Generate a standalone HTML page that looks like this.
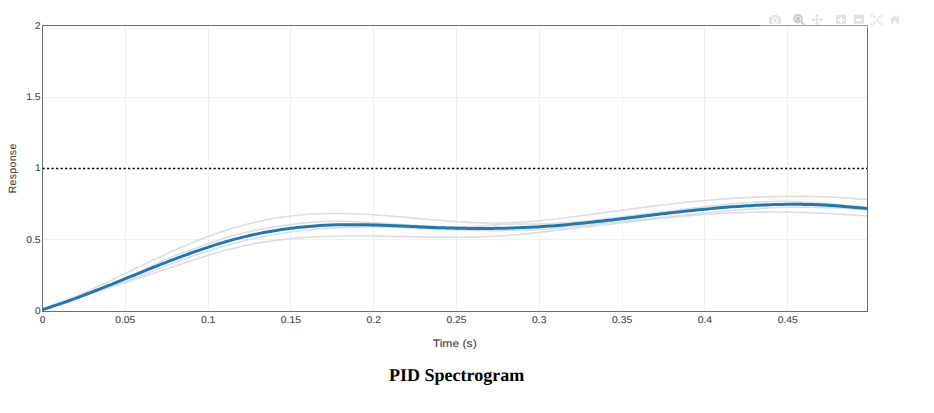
<!DOCTYPE html>
<html><head><meta charset="utf-8"><style>
html,body{margin:0;padding:0;background:#fff;width:934px;height:413px;overflow:hidden;}
body{position:relative;font-family:"Liberation Sans", sans-serif;}
</style></head><body>
<svg width="934" height="413" viewBox="0 0 934 413" style="position:absolute;left:0;top:0;text-rendering:geometricPrecision">
<rect x="125" y="25" width="1" height="286" fill="#f0f0f0"/>
<rect x="208" y="25" width="1" height="286" fill="#f0f0f0"/>
<rect x="290" y="25" width="1" height="286" fill="#f0f0f0"/>
<rect x="373" y="25" width="1" height="286" fill="#f0f0f0"/>
<rect x="456" y="25" width="1" height="286" fill="#f0f0f0"/>
<rect x="539" y="25" width="1" height="286" fill="#f0f0f0"/>
<rect x="622" y="25" width="1" height="286" fill="#f0f0f0"/>
<rect x="704" y="25" width="1" height="286" fill="#f0f0f0"/>
<rect x="787" y="25" width="1" height="286" fill="#f0f0f0"/>
<rect x="42" y="97" width="825" height="1" fill="#f0f0f0"/>
<rect x="42" y="239" width="825" height="1" fill="#f0f0f0"/>
<defs><clipPath id="c"><rect x="42" y="25" width="826" height="286"/></clipPath></defs>
<g clip-path="url(#c)" fill="none" stroke-linejoin="round" stroke-linecap="butt">
<path d="M42.0,309.00 L45.0,308.04 L48.0,307.05 L51.0,306.02 L54.0,304.96 L57.0,303.87 L60.0,302.76 L63.0,301.61 L66.0,300.44 L69.0,299.24 L72.0,298.01 L75.0,296.77 L78.0,295.50 L81.0,294.21 L84.0,292.90 L87.0,291.57 L90.0,290.23 L93.0,288.87 L96.0,287.49 L99.0,286.10 L102.0,284.70 L105.0,283.28 L108.0,281.86 L111.0,280.43 L114.0,278.99 L117.0,277.54 L120.0,276.09 L123.0,274.63 L126.0,273.17 L129.0,271.71 L132.0,270.25 L135.0,268.78 L138.0,267.32 L141.0,265.87 L144.0,264.41 L147.0,262.97 L150.0,261.52 L153.0,260.09 L156.0,258.67 L159.0,257.25 L162.0,255.85 L165.0,254.46 L168.0,253.08 L171.0,251.72 L174.0,250.37 L177.0,249.04 L180.0,247.73 L183.0,246.44 L186.0,245.17 L189.0,243.92 L192.0,242.69 L195.0,241.49 L198.0,240.30 L201.0,239.14 L204.0,238.00 L207.0,236.88 L210.0,235.78 L213.0,234.71 L216.0,233.66 L219.0,232.63 L222.0,231.63 L225.0,230.66 L228.0,229.70 L231.0,228.78 L234.0,227.87 L237.0,227.00 L240.0,226.15 L243.0,225.32 L246.0,224.52 L249.0,223.75 L252.0,223.01 L255.0,222.29 L258.0,221.60 L261.0,220.94 L264.0,220.31 L267.0,219.71 L270.0,219.13 L273.0,218.58 L276.0,218.07 L279.0,217.58 L282.0,217.12 L285.0,216.69 L288.0,216.30 L291.0,215.93 L294.0,215.59 L297.0,215.28 L300.0,214.99 L303.0,214.74 L306.0,214.50 L309.0,214.30 L312.0,214.11 L315.0,213.96 L318.0,213.82 L321.0,213.71 L324.0,213.62 L327.0,213.55 L330.0,213.51 L333.0,213.48 L336.0,213.47 L339.0,213.48 L342.0,213.52 L345.0,213.56 L348.0,213.63 L351.0,213.71 L354.0,213.81 L357.0,213.92 L360.0,214.05 L363.0,214.19 L366.0,214.35 L369.0,214.52 L372.0,214.70 L375.0,214.89 L378.0,215.09 L381.0,215.31 L384.0,215.53 L387.0,215.76 L390.0,216.00 L393.0,216.25 L396.0,216.51 L399.0,216.77 L402.0,217.03 L405.0,217.30 L408.0,217.57 L411.0,217.84 L414.0,218.12 L417.0,218.39 L420.0,218.67 L423.0,218.94 L426.0,219.21 L429.0,219.48 L432.0,219.75 L435.0,220.01 L438.0,220.26 L441.0,220.51 L444.0,220.75 L447.0,220.98 L450.0,221.21 L453.0,221.42 L456.0,221.63 L459.0,221.82 L462.0,222.00 L465.0,222.17 L468.0,222.33 L471.0,222.46 L474.0,222.59 L477.0,222.70 L480.0,222.79 L483.0,222.86 L486.0,222.91 L489.0,222.95 L492.0,222.96 L495.0,222.96 L498.0,222.94 L501.0,222.90 L504.0,222.84 L507.0,222.76 L510.0,222.67 L513.0,222.55 L516.0,222.42 L519.0,222.26 L522.0,222.09 L525.0,221.90 L528.0,221.69 L531.0,221.46 L534.0,221.21 L537.0,220.95 L540.0,220.67 L543.0,220.37 L546.0,220.06 L549.0,219.73 L552.0,219.40 L555.0,219.05 L558.0,218.70 L561.0,218.33 L564.0,217.96 L567.0,217.58 L570.0,217.20 L573.0,216.81 L576.0,216.42 L579.0,216.03 L582.0,215.63 L585.0,215.23 L588.0,214.83 L591.0,214.43 L594.0,214.02 L597.0,213.62 L600.0,213.21 L603.0,212.80 L606.0,212.39 L609.0,211.98 L612.0,211.57 L615.0,211.16 L618.0,210.76 L621.0,210.35 L624.0,209.94 L627.0,209.54 L630.0,209.14 L633.0,208.74 L636.0,208.34 L639.0,207.94 L642.0,207.55 L645.0,207.16 L648.0,206.78 L651.0,206.40 L654.0,206.02 L657.0,205.65 L660.0,205.28 L663.0,204.92 L666.0,204.57 L669.0,204.22 L672.0,203.87 L675.0,203.54 L678.0,203.20 L681.0,202.88 L684.0,202.56 L687.0,202.25 L690.0,201.94 L693.0,201.65 L696.0,201.36 L699.0,201.07 L702.0,200.80 L705.0,200.53 L708.0,200.26 L711.0,200.01 L714.0,199.76 L717.0,199.52 L720.0,199.29 L723.0,199.07 L726.0,198.85 L729.0,198.65 L732.0,198.45 L735.0,198.26 L738.0,198.08 L741.0,197.90 L744.0,197.74 L747.0,197.58 L750.0,197.43 L753.0,197.29 L756.0,197.17 L759.0,197.04 L762.0,196.93 L765.0,196.83 L768.0,196.74 L771.0,196.66 L774.0,196.58 L777.0,196.52 L780.0,196.47 L783.0,196.42 L786.0,196.39 L789.0,196.36 L792.0,196.35 L795.0,196.35 L798.0,196.36 L801.0,196.37 L804.0,196.40 L807.0,196.44 L810.0,196.49 L813.0,196.55 L816.0,196.62 L819.0,196.71 L822.0,196.80 L825.0,196.91 L828.0,197.03 L831.0,197.15 L834.0,197.30 L837.0,197.45 L840.0,197.61 L843.0,197.79 L846.0,197.98 L849.0,198.18 L852.0,198.39 L855.0,198.61 L858.0,198.85 L861.0,199.10 L864.0,199.36 L867.0,199.64" stroke="#dddddd" stroke-width="1.6"/>
<path d="M42.0,309.00 L45.0,307.94 L48.0,306.90 L51.0,305.85 L54.0,304.82 L57.0,303.78 L60.0,302.75 L63.0,301.72 L66.0,300.69 L69.0,299.66 L72.0,298.62 L75.0,297.58 L78.0,296.54 L81.0,295.49 L84.0,294.44 L87.0,293.37 L90.0,292.30 L93.0,291.21 L96.0,290.11 L99.0,289.00 L102.0,287.88 L105.0,286.74 L108.0,285.58 L111.0,284.40 L114.0,283.21 L117.0,281.99 L120.0,280.76 L123.0,279.50 L126.0,278.21 L129.0,276.91 L132.0,275.57 L135.0,274.21 L138.0,272.82 L141.0,271.40 L144.0,269.95 L147.0,268.48 L150.0,267.01 L153.0,265.53 L156.0,264.07 L159.0,262.63 L162.0,261.22 L165.0,259.84 L168.0,258.52 L171.0,257.25 L174.0,256.04 L177.0,254.89 L180.0,253.78 L183.0,252.70 L186.0,251.65 L189.0,250.62 L192.0,249.59 L195.0,248.56 L198.0,247.52 L201.0,246.46 L204.0,245.37 L207.0,244.26 L210.0,243.15 L213.0,242.03 L216.0,240.94 L219.0,239.88 L222.0,238.86 L225.0,237.91 L228.0,237.00 L231.0,236.15 L234.0,235.34 L237.0,234.57 L240.0,233.84 L243.0,233.12 L246.0,232.44 L249.0,231.77 L252.0,231.13 L255.0,230.50 L258.0,229.90 L261.0,229.31 L264.0,228.75 L267.0,228.21 L270.0,227.68 L273.0,227.17 L276.0,226.68 L279.0,226.20 L282.0,225.74 L285.0,225.30 L288.0,224.87 L291.0,224.47 L294.0,224.08 L297.0,223.71 L300.0,223.36 L303.0,223.04 L306.0,222.74 L309.0,222.47 L312.0,222.23 L315.0,222.01 L318.0,221.83 L321.0,221.67 L324.0,221.55 L327.0,221.46 L330.0,221.40 L333.0,221.36 L336.0,221.36 L339.0,221.37 L342.0,221.42 L345.0,221.48 L348.0,221.56 L351.0,221.66 L354.0,221.77 L357.0,221.90 L360.0,222.04 L363.0,222.19 L366.0,222.35 L369.0,222.51 L372.0,222.69 L375.0,222.86 L378.0,223.05 L381.0,223.24 L384.0,223.43 L387.0,223.63 L390.0,223.82 L393.0,224.02 L396.0,224.22 L399.0,224.42 L402.0,224.61 L405.0,224.80 L408.0,224.99 L411.0,225.18 L414.0,225.36 L417.0,225.53 L420.0,225.70 L423.0,225.85 L426.0,226.00 L429.0,226.14 L432.0,226.27 L435.0,226.39 L438.0,226.49 L441.0,226.58 L444.0,226.66 L447.0,226.72 L450.0,226.76 L453.0,226.79 L456.0,226.80 L459.0,226.80 L462.0,226.77 L465.0,226.72 L468.0,226.65 L471.0,226.55 L474.0,226.43 L477.0,226.28 L480.0,226.09 L483.0,225.87 L486.0,225.63 L489.0,225.36 L492.0,225.10 L495.0,224.84 L498.0,224.62 L501.0,224.43 L504.0,224.28 L507.0,224.18 L510.0,224.11 L513.0,224.07 L516.0,224.04 L519.0,224.04 L522.0,224.03 L525.0,224.03 L528.0,224.02 L531.0,224.02 L534.0,224.00 L537.0,223.97 L540.0,223.93 L543.0,223.88 L546.0,223.81 L549.0,223.72 L552.0,223.60 L555.0,223.47 L558.0,223.31 L561.0,223.13 L564.0,222.93 L567.0,222.72 L570.0,222.49 L573.0,222.24 L576.0,221.97 L579.0,221.70 L582.0,221.41 L585.0,221.10 L588.0,220.79 L591.0,220.47 L594.0,220.14 L597.0,219.80 L600.0,219.46 L603.0,219.11 L606.0,218.76 L609.0,218.40 L612.0,218.04 L615.0,217.68 L618.0,217.32 L621.0,216.96 L624.0,216.59 L627.0,216.23 L630.0,215.86 L633.0,215.50 L636.0,215.13 L639.0,214.76 L642.0,214.40 L645.0,214.03 L648.0,213.66 L651.0,213.29 L654.0,212.92 L657.0,212.55 L660.0,212.18 L663.0,211.81 L666.0,211.44 L669.0,211.08 L672.0,210.71 L675.0,210.34 L678.0,209.98 L681.0,209.61 L684.0,209.25 L687.0,208.88 L690.0,208.52 L693.0,208.16 L696.0,207.80 L699.0,207.45 L702.0,207.10 L705.0,206.75 L708.0,206.40 L711.0,206.07 L714.0,205.73 L717.0,205.41 L720.0,205.09 L723.0,204.78 L726.0,204.48 L729.0,204.19 L732.0,203.91 L735.0,203.64 L738.0,203.38 L741.0,203.14 L744.0,202.91 L747.0,202.69 L750.0,202.48 L753.0,202.29 L756.0,202.12 L759.0,201.96 L762.0,201.82 L765.0,201.70 L768.0,201.60 L771.0,201.51 L774.0,201.45 L777.0,201.40 L780.0,201.38 L783.0,201.38 L786.0,201.40 L789.0,201.45 L792.0,201.52 L795.0,201.61 L798.0,201.72 L801.0,201.86 L804.0,202.01 L807.0,202.19 L810.0,202.38 L813.0,202.58 L816.0,202.80 L819.0,203.03 L822.0,203.27 L825.0,203.52 L828.0,203.78 L831.0,204.05 L834.0,204.32 L837.0,204.60 L840.0,204.88 L843.0,205.16 L846.0,205.44 L849.0,205.72 L852.0,206.00 L855.0,206.27 L858.0,206.54 L861.0,206.80 L864.0,207.06 L867.0,207.30" stroke="#dddddd" stroke-width="1.6"/>
<path d="M42.0,309.00 L45.0,308.08 L48.0,307.16 L51.0,306.23 L54.0,305.30 L57.0,304.36 L60.0,303.42 L63.0,302.48 L66.0,301.53 L69.0,300.58 L72.0,299.62 L75.0,298.65 L78.0,297.68 L81.0,296.70 L84.0,295.72 L87.0,294.73 L90.0,293.73 L93.0,292.73 L96.0,291.72 L99.0,290.70 L102.0,289.67 L105.0,288.64 L108.0,287.60 L111.0,286.55 L114.0,285.49 L117.0,284.43 L120.0,283.35 L123.0,282.27 L126.0,281.18 L129.0,280.08 L132.0,278.97 L135.0,277.85 L138.0,276.72 L141.0,275.58 L144.0,274.43 L147.0,273.27 L150.0,272.10 L153.0,270.93 L156.0,269.76 L159.0,268.58 L162.0,267.41 L165.0,266.24 L168.0,265.07 L171.0,263.92 L174.0,262.77 L177.0,261.63 L180.0,260.51 L183.0,259.41 L186.0,258.32 L189.0,257.24 L192.0,256.19 L195.0,255.15 L198.0,254.13 L201.0,253.13 L204.0,252.15 L207.0,251.18 L210.0,250.23 L213.0,249.30 L216.0,248.39 L219.0,247.50 L222.0,246.63 L225.0,245.77 L228.0,244.94 L231.0,244.12 L234.0,243.33 L237.0,242.55 L240.0,241.79 L243.0,241.05 L246.0,240.34 L249.0,239.64 L252.0,238.96 L255.0,238.30 L258.0,237.67 L261.0,237.05 L264.0,236.46 L267.0,235.88 L270.0,235.33 L273.0,234.79 L276.0,234.28 L279.0,233.78 L282.0,233.31 L285.0,232.85 L288.0,232.42 L291.0,232.00 L294.0,231.60 L297.0,231.22 L300.0,230.86 L303.0,230.51 L306.0,230.19 L309.0,229.88 L312.0,229.59 L315.0,229.31 L318.0,229.05 L321.0,228.81 L324.0,228.59 L327.0,228.38 L330.0,228.18 L333.0,228.01 L336.0,227.85 L339.0,227.70 L342.0,227.57 L345.0,227.45 L348.0,227.35 L351.0,227.26 L354.0,227.19 L357.0,227.13 L360.0,227.08 L363.0,227.05 L366.0,227.03 L369.0,227.02 L372.0,227.03 L375.0,227.04 L378.0,227.07 L381.0,227.11 L384.0,227.16 L387.0,227.21 L390.0,227.28 L393.0,227.35 L396.0,227.43 L399.0,227.52 L402.0,227.62 L405.0,227.72 L408.0,227.82 L411.0,227.93 L414.0,228.05 L417.0,228.16 L420.0,228.28 L423.0,228.41 L426.0,228.53 L429.0,228.66 L432.0,228.79 L435.0,228.91 L438.0,229.04 L441.0,229.17 L444.0,229.29 L447.0,229.41 L450.0,229.53 L453.0,229.65 L456.0,229.76 L459.0,229.87 L462.0,229.98 L465.0,230.08 L468.0,230.17 L471.0,230.25 L474.0,230.33 L477.0,230.40 L480.0,230.47 L483.0,230.52 L486.0,230.57 L489.0,230.60 L492.0,230.63 L495.0,230.64 L498.0,230.64 L501.0,230.63 L504.0,230.61 L507.0,230.57 L510.0,230.53 L513.0,230.47 L516.0,230.39 L519.0,230.31 L522.0,230.21 L525.0,230.10 L528.0,229.98 L531.0,229.85 L534.0,229.70 L537.0,229.55 L540.0,229.38 L543.0,229.19 L546.0,229.00 L549.0,228.80 L552.0,228.58 L555.0,228.35 L558.0,228.11 L561.0,227.86 L564.0,227.59 L567.0,227.32 L570.0,227.03 L573.0,226.74 L576.0,226.43 L579.0,226.11 L582.0,225.79 L585.0,225.45 L588.0,225.12 L591.0,224.78 L594.0,224.43 L597.0,224.09 L600.0,223.74 L603.0,223.40 L606.0,223.06 L609.0,222.72 L612.0,222.38 L615.0,222.06 L618.0,221.73 L621.0,221.41 L624.0,221.10 L627.0,220.78 L630.0,220.48 L633.0,220.17 L636.0,219.87 L639.0,219.57 L642.0,219.27 L645.0,218.98 L648.0,218.68 L651.0,218.39 L654.0,218.10 L657.0,217.81 L660.0,217.52 L663.0,217.24 L666.0,216.95 L669.0,216.66 L672.0,216.37 L675.0,216.08 L678.0,215.79 L681.0,215.50 L684.0,215.21 L687.0,214.91 L690.0,214.62 L693.0,214.32 L696.0,214.02 L699.0,213.71 L702.0,213.41 L705.0,213.11 L708.0,212.81 L711.0,212.51 L714.0,212.21 L717.0,211.91 L720.0,211.62 L723.0,211.34 L726.0,211.05 L729.0,210.78 L732.0,210.50 L735.0,210.24 L738.0,209.98 L741.0,209.73 L744.0,209.49 L747.0,209.26 L750.0,209.04 L753.0,208.83 L756.0,208.63 L759.0,208.44 L762.0,208.27 L765.0,208.10 L768.0,207.96 L771.0,207.82 L774.0,207.70 L777.0,207.60 L780.0,207.51 L783.0,207.43 L786.0,207.37 L789.0,207.32 L792.0,207.28 L795.0,207.26 L798.0,207.24 L801.0,207.24 L804.0,207.25 L807.0,207.27 L810.0,207.31 L813.0,207.35 L816.0,207.40 L819.0,207.46 L822.0,207.54 L825.0,207.62 L828.0,207.71 L831.0,207.80 L834.0,207.91 L837.0,208.02 L840.0,208.15 L843.0,208.27 L846.0,208.41 L849.0,208.55 L852.0,208.70 L855.0,208.85 L858.0,209.01 L861.0,209.17 L864.0,209.34 L867.0,209.51" stroke="#dddddd" stroke-width="1.6"/>
<path d="M42.0,309.00 L45.0,307.97 L48.0,306.96 L51.0,305.95 L54.0,304.96 L57.0,303.97 L60.0,302.99 L63.0,302.02 L66.0,301.05 L69.0,300.10 L72.0,299.14 L75.0,298.20 L78.0,297.25 L81.0,296.31 L84.0,295.38 L87.0,294.45 L90.0,293.52 L93.0,292.59 L96.0,291.66 L99.0,290.74 L102.0,289.81 L105.0,288.88 L108.0,287.96 L111.0,287.03 L114.0,286.10 L117.0,285.16 L120.0,284.23 L123.0,283.29 L126.0,282.34 L129.0,281.39 L132.0,280.43 L135.0,279.47 L138.0,278.50 L141.0,277.53 L144.0,276.55 L147.0,275.56 L150.0,274.56 L153.0,273.56 L156.0,272.55 L159.0,271.54 L162.0,270.53 L165.0,269.52 L168.0,268.50 L171.0,267.49 L174.0,266.48 L177.0,265.47 L180.0,264.46 L183.0,263.46 L186.0,262.46 L189.0,261.47 L192.0,260.49 L195.0,259.51 L198.0,258.55 L201.0,257.60 L204.0,256.66 L207.0,255.73 L210.0,254.82 L213.0,253.92 L216.0,253.04 L219.0,252.18 L222.0,251.34 L225.0,250.52 L228.0,249.72 L231.0,248.94 L234.0,248.19 L237.0,247.46 L240.0,246.76 L243.0,246.08 L246.0,245.44 L249.0,244.82 L252.0,244.22 L255.0,243.66 L258.0,243.12 L261.0,242.60 L264.0,242.11 L267.0,241.64 L270.0,241.19 L273.0,240.77 L276.0,240.37 L279.0,239.99 L282.0,239.63 L285.0,239.29 L288.0,238.98 L291.0,238.68 L294.0,238.40 L297.0,238.13 L300.0,237.89 L303.0,237.66 L306.0,237.45 L309.0,237.26 L312.0,237.08 L315.0,236.91 L318.0,236.77 L321.0,236.63 L324.0,236.51 L327.0,236.40 L330.0,236.31 L333.0,236.23 L336.0,236.16 L339.0,236.10 L342.0,236.05 L345.0,236.01 L348.0,235.98 L351.0,235.96 L354.0,235.95 L357.0,235.95 L360.0,235.96 L363.0,235.97 L366.0,235.99 L369.0,236.01 L372.0,236.05 L375.0,236.08 L378.0,236.13 L381.0,236.17 L384.0,236.22 L387.0,236.28 L390.0,236.33 L393.0,236.39 L396.0,236.45 L399.0,236.52 L402.0,236.58 L405.0,236.64 L408.0,236.71 L411.0,236.77 L414.0,236.83 L417.0,236.89 L420.0,236.95 L423.0,237.00 L426.0,237.06 L429.0,237.11 L432.0,237.15 L435.0,237.19 L438.0,237.23 L441.0,237.25 L444.0,237.28 L447.0,237.29 L450.0,237.30 L453.0,237.31 L456.0,237.30 L459.0,237.29 L462.0,237.26 L465.0,237.23 L468.0,237.19 L471.0,237.13 L474.0,237.07 L477.0,236.99 L480.0,236.90 L483.0,236.80 L486.0,236.69 L489.0,236.56 L492.0,236.42 L495.0,236.27 L498.0,236.09 L501.0,235.91 L504.0,235.71 L507.0,235.49 L510.0,235.26 L513.0,235.01 L516.0,234.75 L519.0,234.48 L522.0,234.20 L525.0,233.90 L528.0,233.60 L531.0,233.29 L534.0,232.96 L537.0,232.64 L540.0,232.30 L543.0,231.96 L546.0,231.62 L549.0,231.27 L552.0,230.91 L555.0,230.56 L558.0,230.20 L561.0,229.85 L564.0,229.49 L567.0,229.13 L570.0,228.78 L573.0,228.43 L576.0,228.08 L579.0,227.73 L582.0,227.39 L585.0,227.04 L588.0,226.70 L591.0,226.36 L594.0,226.02 L597.0,225.67 L600.0,225.33 L603.0,224.99 L606.0,224.65 L609.0,224.31 L612.0,223.96 L615.0,223.62 L618.0,223.27 L621.0,222.92 L624.0,222.58 L627.0,222.23 L630.0,221.89 L633.0,221.54 L636.0,221.20 L639.0,220.86 L642.0,220.52 L645.0,220.18 L648.0,219.85 L651.0,219.52 L654.0,219.19 L657.0,218.87 L660.0,218.55 L663.0,218.24 L666.0,217.93 L669.0,217.63 L672.0,217.33 L675.0,217.04 L678.0,216.75 L681.0,216.47 L684.0,216.20 L687.0,215.94 L690.0,215.68 L693.0,215.43 L696.0,215.19 L699.0,214.96 L702.0,214.74 L705.0,214.52 L708.0,214.32 L711.0,214.12 L714.0,213.93 L717.0,213.75 L720.0,213.58 L723.0,213.42 L726.0,213.26 L729.0,213.12 L732.0,212.98 L735.0,212.85 L738.0,212.73 L741.0,212.62 L744.0,212.52 L747.0,212.43 L750.0,212.35 L753.0,212.28 L756.0,212.21 L759.0,212.16 L762.0,212.11 L765.0,212.08 L768.0,212.05 L771.0,212.04 L774.0,212.03 L777.0,212.04 L780.0,212.05 L783.0,212.07 L786.0,212.10 L789.0,212.15 L792.0,212.20 L795.0,212.26 L798.0,212.34 L801.0,212.42 L804.0,212.51 L807.0,212.61 L810.0,212.72 L813.0,212.83 L816.0,212.95 L819.0,213.09 L822.0,213.22 L825.0,213.37 L828.0,213.52 L831.0,213.68 L834.0,213.84 L837.0,214.01 L840.0,214.19 L843.0,214.37 L846.0,214.55 L849.0,214.74 L852.0,214.94 L855.0,215.14 L858.0,215.34 L861.0,215.54 L864.0,215.75 L867.0,215.96" stroke="#dddddd" stroke-width="1.6"/>
<path d="M42.0,309.79 L45.0,308.86 L48.0,307.91 L51.0,306.94 L54.0,305.94 L57.0,304.94 L60.0,303.91 L63.0,302.87 L66.0,301.81 L69.0,300.73 L72.0,299.64 L75.0,298.54 L78.0,297.43 L81.0,296.30 L84.0,295.16 L87.0,294.01 L90.0,292.85 L93.0,291.68 L96.0,290.51 L99.0,289.32 L102.0,288.13 L105.0,286.93 L108.0,285.73 L111.0,284.52 L114.0,283.31 L117.0,282.09 L120.0,280.88 L123.0,279.66 L126.0,278.43 L129.0,277.21 L132.0,275.99 L135.0,274.77 L138.0,273.55 L141.0,272.34 L144.0,271.12 L147.0,269.92 L150.0,268.71 L153.0,267.51 L156.0,266.32 L159.0,265.13 L162.0,263.96 L165.0,262.78 L168.0,261.62 L171.0,260.47 L174.0,259.32 L177.0,258.19 L180.0,257.07 L183.0,255.95 L186.0,254.85 L189.0,253.77 L192.0,252.69 L195.0,251.63 L198.0,250.59 L201.0,249.56 L204.0,248.55 L207.0,247.55 L210.0,246.57 L213.0,245.61 L216.0,244.66 L219.0,243.74 L222.0,242.84 L225.0,241.95 L228.0,241.09 L231.0,240.24 L234.0,239.42 L237.0,238.63 L240.0,237.85 L243.0,237.10 L246.0,236.38 L249.0,235.68 L252.0,235.00 L255.0,234.35 L258.0,233.72 L261.0,233.11 L264.0,232.53 L267.0,231.97 L270.0,231.43 L273.0,230.91 L276.0,230.42 L279.0,229.95 L282.0,229.50 L285.0,229.07 L288.0,228.66 L291.0,228.28 L294.0,227.91 L297.0,227.57 L300.0,227.24 L303.0,226.94 L306.0,226.65 L309.0,226.39 L312.0,226.14 L315.0,225.92 L318.0,225.71 L321.0,225.52 L324.0,225.35 L327.0,225.20 L330.0,225.07 L333.0,224.96 L336.0,224.86 L339.0,224.78 L342.0,224.71 L345.0,224.67 L348.0,224.64 L351.0,224.63 L354.0,224.63 L357.0,224.64 L360.0,224.67 L363.0,224.71 L366.0,224.76 L369.0,224.82 L372.0,224.90 L375.0,224.98 L378.0,225.07 L381.0,225.18 L384.0,225.28 L387.0,225.40 L390.0,225.52 L393.0,225.64 L396.0,225.77 L399.0,225.91 L402.0,226.05 L405.0,226.18 L408.0,226.33 L411.0,226.47 L414.0,226.61 L417.0,226.75 L420.0,226.89 L423.0,227.03 L426.0,227.16 L429.0,227.29 L432.0,227.42 L435.0,227.54 L438.0,227.65 L441.0,227.76 L444.0,227.86 L447.0,227.96 L450.0,228.04 L453.0,228.12 L456.0,228.19 L459.0,228.26 L462.0,228.31 L465.0,228.36 L468.0,228.40 L471.0,228.43 L474.0,228.45 L477.0,228.46 L480.0,228.47 L483.0,228.47 L486.0,228.45 L489.0,228.43 L492.0,228.40 L495.0,228.37 L498.0,228.32 L501.0,228.26 L504.0,228.20 L507.0,228.13 L510.0,228.04 L513.0,227.95 L516.0,227.85 L519.0,227.74 L522.0,227.62 L525.0,227.49 L528.0,227.35 L531.0,227.20 L534.0,227.04 L537.0,226.88 L540.0,226.70 L543.0,226.51 L546.0,226.31 L549.0,226.10 L552.0,225.88 L555.0,225.65 L558.0,225.42 L561.0,225.17 L564.0,224.91 L567.0,224.65 L570.0,224.38 L573.0,224.09 L576.0,223.81 L579.0,223.51 L582.0,223.21 L585.0,222.90 L588.0,222.58 L591.0,222.26 L594.0,221.94 L597.0,221.61 L600.0,221.27 L603.0,220.93 L606.0,220.59 L609.0,220.24 L612.0,219.89 L615.0,219.53 L618.0,219.18 L621.0,218.82 L624.0,218.46 L627.0,218.10 L630.0,217.73 L633.0,217.37 L636.0,217.00 L639.0,216.64 L642.0,216.28 L645.0,215.91 L648.0,215.55 L651.0,215.19 L654.0,214.83 L657.0,214.47 L660.0,214.11 L663.0,213.76 L666.0,213.41 L669.0,213.06 L672.0,212.72 L675.0,212.37 L678.0,212.04 L681.0,211.70 L684.0,211.37 L687.0,211.05 L690.0,210.72 L693.0,210.41 L696.0,210.10 L699.0,209.79 L702.0,209.49 L705.0,209.20 L708.0,208.91 L711.0,208.63 L714.0,208.35 L717.0,208.08 L720.0,207.82 L723.0,207.57 L726.0,207.32 L729.0,207.08 L732.0,206.85 L735.0,206.63 L738.0,206.42 L741.0,206.21 L744.0,206.02 L747.0,205.83 L750.0,205.65 L753.0,205.49 L756.0,205.33 L759.0,205.18 L762.0,205.05 L765.0,204.92 L768.0,204.81 L771.0,204.71 L774.0,204.62 L777.0,204.54 L780.0,204.47 L783.0,204.42 L786.0,204.37 L789.0,204.35 L792.0,204.33 L795.0,204.33 L798.0,204.34 L801.0,204.36 L804.0,204.40 L807.0,204.45 L810.0,204.52 L813.0,204.61 L816.0,204.70 L819.0,204.82 L822.0,204.95 L825.0,205.09 L828.0,205.25 L831.0,205.43 L833.0,205.56 L867,208.6" stroke="#1f77b4" stroke-width="3"/>
</g>
<line x1="42" y1="168.5" x2="867" y2="168.5" stroke="#000" stroke-width="1.5" stroke-dasharray="2.25,2.25" stroke-dashoffset="-0.5"/>
<rect x="42.5" y="25.5" width="825" height="286" fill="none" stroke="#6d6d6d" stroke-width="1"/>
<text x="42.5" y="322.85" text-anchor="middle" font-family='"Liberation Sans", sans-serif' font-size="9.8" fill="#444" stroke="#444" stroke-width="0.1" textLength="5.62" lengthAdjust="spacingAndGlyphs">0</text>
<text x="125.3" y="322.85" text-anchor="middle" font-family='"Liberation Sans", sans-serif' font-size="9.8" fill="#444" stroke="#444" stroke-width="0.1" textLength="20.07" lengthAdjust="spacingAndGlyphs">0.05</text>
<text x="208.1" y="322.85" text-anchor="middle" font-family='"Liberation Sans", sans-serif' font-size="9.8" fill="#444" stroke="#444" stroke-width="0.1" textLength="14.45" lengthAdjust="spacingAndGlyphs">0.1</text>
<text x="290.9" y="322.85" text-anchor="middle" font-family='"Liberation Sans", sans-serif' font-size="9.8" fill="#444" stroke="#444" stroke-width="0.1" textLength="20.07" lengthAdjust="spacingAndGlyphs">0.15</text>
<text x="373.7" y="322.85" text-anchor="middle" font-family='"Liberation Sans", sans-serif' font-size="9.8" fill="#444" stroke="#444" stroke-width="0.1" textLength="14.45" lengthAdjust="spacingAndGlyphs">0.2</text>
<text x="456.5" y="322.85" text-anchor="middle" font-family='"Liberation Sans", sans-serif' font-size="9.8" fill="#444" stroke="#444" stroke-width="0.1" textLength="20.07" lengthAdjust="spacingAndGlyphs">0.25</text>
<text x="539.3" y="322.85" text-anchor="middle" font-family='"Liberation Sans", sans-serif' font-size="9.8" fill="#444" stroke="#444" stroke-width="0.1" textLength="14.45" lengthAdjust="spacingAndGlyphs">0.3</text>
<text x="622.1" y="322.85" text-anchor="middle" font-family='"Liberation Sans", sans-serif' font-size="9.8" fill="#444" stroke="#444" stroke-width="0.1" textLength="20.07" lengthAdjust="spacingAndGlyphs">0.35</text>
<text x="704.9" y="322.85" text-anchor="middle" font-family='"Liberation Sans", sans-serif' font-size="9.8" fill="#444" stroke="#444" stroke-width="0.1" textLength="14.45" lengthAdjust="spacingAndGlyphs">0.4</text>
<text x="787.7" y="322.85" text-anchor="middle" font-family='"Liberation Sans", sans-serif' font-size="9.8" fill="#444" stroke="#444" stroke-width="0.1" textLength="20.07" lengthAdjust="spacingAndGlyphs">0.45</text>
<text x="34.98" y="314.30" font-family='"Liberation Sans", sans-serif' font-size="9.8" fill="#444" stroke="#444" stroke-width="0.1" textLength="5.62" lengthAdjust="spacingAndGlyphs">0</text>
<text x="26.15" y="242.85" font-family='"Liberation Sans", sans-serif' font-size="9.8" fill="#444" stroke="#444" stroke-width="0.1" textLength="14.45" lengthAdjust="spacingAndGlyphs">0.5</text>
<text x="34.98" y="171.40" font-family='"Liberation Sans", sans-serif' font-size="9.8" fill="#444" stroke="#444" stroke-width="0.1" textLength="5.62" lengthAdjust="spacingAndGlyphs">1</text>
<text x="26.15" y="99.90" font-family='"Liberation Sans", sans-serif' font-size="9.8" fill="#444" stroke="#444" stroke-width="0.1" textLength="14.45" lengthAdjust="spacingAndGlyphs">1.5</text>
<text x="34.98" y="28.85" font-family='"Liberation Sans", sans-serif' font-size="9.8" fill="#444" stroke="#444" stroke-width="0.1" textLength="5.62" lengthAdjust="spacingAndGlyphs">2</text>
<text x="454.7" y="347" text-anchor="middle" font-family='"Liberation Sans", sans-serif' font-size="10.8" fill="#444" stroke="#444" stroke-width="0.12" textLength="44" lengthAdjust="spacingAndGlyphs">Time (s)</text>
<text transform="translate(16.1,168.5) rotate(-90)" x="0" y="0" text-anchor="middle" font-family='"Liberation Sans", sans-serif' font-size="10.5" fill="#444" stroke="#444" stroke-width="0.1" textLength="49.6" lengthAdjust="spacing">Response</text>
<text x="456.6" y="381" text-anchor="middle" font-family='"Liberation Serif", serif' font-weight="bold" font-size="18" fill="#000">PID Spectrogram</text>
<rect x="760" y="10" width="145" height="18" fill="#fff" fill-opacity="0.3"/>
<path d="M769,17.6 q0,-0.8 0.8,-0.8 h2 l0.8,-1.9 h4.8 l0.8,1.9 h2 q0.8,0 0.8,0.8 v5.4 q0,0.8 -0.8,0.8 h-10.4 q-0.8,0 -0.8,-0.8 z M774.9,17.1 a3.2,3.2 0 1,0 0.01,0 z" fill="#e2e2e2" fill-rule="evenodd"/>
<circle cx="774.9" cy="20.3" r="1.7" fill="#e2e2e2"/>
<g fill="none" stroke="#cbcbcb" stroke-width="1.9"><circle cx="798" cy="18.6" r="3.9"/><line x1="800.9" y1="21.6" x2="804.2" y2="24.8"/></g><rect x="795.8" y="16.6" width="4.4" height="4.4" fill="#cbcbcb"/>
<g stroke="#e2e2e2" stroke-width="1.3" fill="none"><line x1="816.8" y1="15" x2="816.8" y2="24.5"/><line x1="812" y1="19.6" x2="822" y2="19.6"/></g>
<g fill="#e2e2e2"><path d="M816.8,13.9 l-2.6,2.6 h5.2z M816.8,25.2 l-2.6,-2.6 h5.2z M811.2,19.6 l2.6,-2.6 v5.2z M822.9,19.6 l-2.6,-2.6 v5.2z"/></g>
<path d="M836,14.8 h10 v9 h-10 z M840.1,17 v2.3 h-2.2 v1.6 h2.2 v2.2 h1.8 v-2.2 h2.2 v-1.6 h-2.2 v-2.3 z" fill="#e2e2e2" fill-rule="evenodd"/>
<path d="M854,14.8 h10 v9 h-10 z M855.9,19.1 v1.8 h6 v-1.8 z" fill="#e2e2e2" fill-rule="evenodd"/>
<g stroke="#e2e2e2" stroke-width="1" fill="none"><path d="M871.4,17 v-2.4 h2.4 M880.2,14.6 h2.4 v2.4 M882.6,22.6 v2.5 h-2.4 M873.8,25.1 h-2.4 v-2.5"/><path d="M874.5,17.3 l5,5 M879.5,17.3 l-5,5"/></g>
<g fill="#e2e2e2"><path d="M873.2,16 h2.8 l-2.8,2.8z M880.8,16 h-2.8 l2.8,2.8z M873.2,23.6 h2.8 l-2.8,-2.8z M880.8,23.6 h-2.8 l2.8,-2.8z"/></g>
<path d="M895,15.2 l5.2,4.8 h-1.4 v3.8 h-2.4 v-2.6 h-2.8 v2.6 h-2.4 v-3.8 h-1.4 z M898,15.6 h1.3 v3 l-1.3,-1.2 z" fill="#e2e2e2"/>
</svg>
</body></html>
